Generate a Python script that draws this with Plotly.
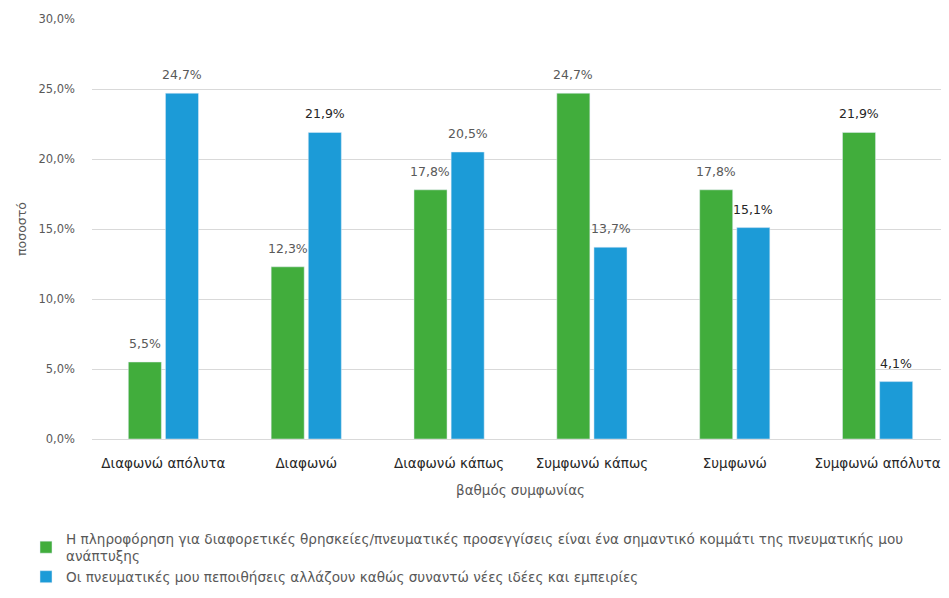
import plotly.graph_objects as go

categories = ["Διαφωνώ απόλυτα", "Διαφωνώ", "Διαφωνώ κάπως", "Συμφωνώ κάπως", "Συμφωνώ", "Συμφωνώ απόλυτα"]
series_green = [5.5, 12.3, 17.8, 24.7, 17.8, 21.9]
series_blue = [24.7, 21.9, 20.5, 13.7, 15.1, 4.1]
name_green = "Η πληροφόρηση για διαφορετικές θρησκείες/πνευματικές προσεγγίσεις είναι ένα σημαντικό κομμάτι της πνευματικής μου<br>ανάπτυξης"
name_blue = "Οι πνευματικές μου πεποιθήσεις αλλάζουν καθώς συναντώ νέες ιδέες και εμπειρίες"
tick_vals = [0, 5, 10, 15, 20, 25, 30]
tick_text = ["0,0%", "5,0%", "10,0%", "15,0%", "20,0%", "25,0%", "30,0%"]

def fmt(v):
    return f"{v:.1f}%".replace(".", ",")

GREY = "#595959"
DARK = "#262626"
green_text_colors = [GREY, GREY, GREY, GREY, GREY, DARK]
blue_text_colors = [GREY, DARK, GREY, GREY, DARK, DARK]

FONT = "DejaVu Sans"

fig = go.Figure()
fig.add_trace(go.Bar(
    x=categories, y=series_green, name=name_green,
    marker_color="#41AD3C",
))
fig.add_trace(go.Bar(
    x=categories, y=series_blue, name=name_blue,
    marker_color="#1C9BD7",
))

# data labels placed over each bar of the group (bar centre offset ±18.6 px)
for values, colors, shift in ((series_green, green_text_colors, -18.6),
                              (series_blue, blue_text_colors, 18.6)):
    for cat, v, c in zip(categories, values, colors):
        fig.add_annotation(
            x=cat, y=v, text=fmt(v), showarrow=False,
            xanchor="center", yanchor="bottom", xshift=shift, yshift=9,
            font=dict(size=12.5, color=c, family=FONT),
        )

fig.update_layout(
    width=941, height=590,
    margin=dict(l=84, r=0, t=11, b=159, autoexpand=False),
    paper_bgcolor="white", plot_bgcolor="white",
    font=dict(family=FONT, size=12, color=GREY),
    barmode="group", bargap=0.48, bargroupgap=0.11,
    showlegend=True,
    legend=dict(
        orientation="v", x=-0.077, xanchor="left", y=-0.2, yanchor="top",
        font=dict(size=13.6, color=GREY, family=FONT),
        itemwidth=30,
    ),
    xaxis=dict(
        showline=False, ticks="", ticklabelstandoff=14,
        tickfont=dict(size=13.5, color="#262626"),
        title=dict(text="βαθμός συμφωνίας", font=dict(size=13.5, color=GREY), standoff=16),
    ),
    yaxis=dict(
        range=[0, 30], tickvals=tick_vals, ticktext=tick_text,
        showgrid=True, gridcolor="#D9D9D9", gridwidth=1,
        zeroline=True, zerolinecolor="#D9D9D9", zerolinewidth=1,
        tickfont=dict(size=11.5, color=GREY), ticks="", ticklabelstandoff=16,
        title=dict(text="ποσοστό", font=dict(size=12.5, color=GREY), standoff=9),
    ),
)

fig.write_html("out.html")
